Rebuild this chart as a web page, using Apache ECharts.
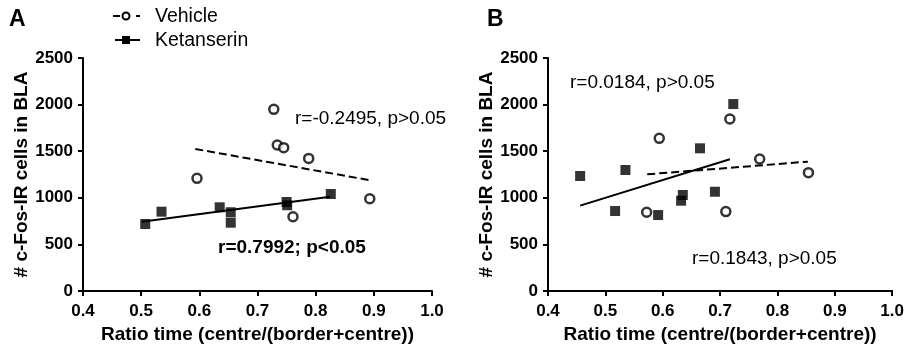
<!DOCTYPE html>
<html>
<head>
<meta charset="utf-8">
<script src="https://cdn.jsdelivr.net/npm/echarts@6/dist/echarts.min.js"></script>
<style>
  html, body { margin: 0; padding: 0; background: #fff; }
  #chart { width: 907px; height: 350px; }
</style>
</head>
<body>
<div id="chart"></div>
<script>
// panel A
const vehicleAx = [0.596, 0.728, 0.734, 0.745, 0.788, 0.761, 0.893]
const vehicleAy = [1209, 1949, 1566, 1538, 1423, 797, 990]
const ketanAx = [0.507, 0.535, 0.635, 0.654, 0.654, 0.750, 0.751, 0.826]
const ketanAy = [719, 851, 898, 845, 733, 955, 920, 1041]
const fitVehicleA = [[0.593, 1524], [0.891, 1191]]
const fitKetanA = [[0.501, 744], [0.825, 1012]]

// panel B
const vehicleBx = [0.572, 0.594, 0.717, 0.769, 0.710, 0.854]
const vehicleBy = [845, 1638, 1845, 1416, 852, 1270]
const ketanBx = [0.456, 0.517, 0.535, 0.592, 0.632, 0.635, 0.665, 0.691, 0.723]
const ketanBy = [1234, 858, 1298, 815, 969, 1030, 1531, 1065, 2006]
const fitKetanB = [[0.456, 916], [0.717, 1413]]
const fitVehicleB = [[0.573, 1252], [0.853, 1388]]

const xTicks = [0.4, 0.5, 0.6, 0.7, 0.8, 0.9, 1.0]
const yTicks = [0, 500, 1000, 1500, 2000, 2500]

const font = 'Liberation Sans, Arial, sans-serif'
const pairs = (xs, ys) => xs.map((x, i) => [x, ys[i]])

const chart = echarts.init(document.getElementById('chart'))

const xAxisCfg = (gridIndex) => ({
  type: 'value',
  gridIndex,
  min: xTicks[0],
  max: xTicks[xTicks.length - 1],
  interval: 0.1,
  name: 'Ratio time (centre/(border+centre))',
  nameLocation: 'middle',
  nameGap: 32,
  nameTextStyle: { fontFamily: font, fontWeight: 'bold', fontSize: 19, color: '#000' },
  splitLine: { show: false },
  axisLine: { onZero: false, lineStyle: { color: '#000', width: 2 } },
  axisTick: { show: true, length: 5, lineStyle: { color: '#000', width: 2 } },
  axisLabel: {
    margin: 12,
    fontFamily: font,
    fontWeight: 'bold',
    fontSize: 17,
    color: '#000',
    formatter: (v) => v.toFixed(1),
  },
})

const yAxisCfg = (gridIndex) => ({
  type: 'value',
  gridIndex,
  min: yTicks[0],
  max: yTicks[yTicks.length - 1],
  interval: 500,
  name: '# c-Fos-IR cells in BLA',
  nameLocation: 'middle',
  nameGap: 52,
  nameTextStyle: { fontFamily: font, fontWeight: 'bold', fontSize: 19, color: '#000' },
  splitLine: { show: false },
  axisLine: { show: true, lineStyle: { color: '#000', width: 2 } },
  axisTick: { show: true, length: 5, lineStyle: { color: '#000', width: 2 } },
  axisLabel: {
    margin: 10,
    fontFamily: font,
    fontWeight: 'bold',
    fontSize: 17,
    color: '#000',
    formatter: (v) => String(v),
  },
})

const circleSeries = (name, data, idx) => ({
  name,
  type: 'scatter',
  xAxisIndex: idx,
  yAxisIndex: idx,
  symbol: 'circle',
  symbolSize: 9,
  itemStyle: { color: '#fff', borderColor: '#000', borderWidth: 2.5 },
  data,
  z: 4,
})

const squareSeries = (name, data, idx) => ({
  name,
  type: 'scatter',
  xAxisIndex: idx,
  yAxisIndex: idx,
  symbol: 'rect',
  symbolSize: 10,
  itemStyle: { color: '#000' },
  data,
  z: 4,
})

const fitSeries = (data, idx, dashed) => ({
  type: 'line',
  xAxisIndex: idx,
  yAxisIndex: idx,
  showSymbol: false,
  silent: true,
  lineStyle: { color: '#000', width: 2, type: dashed ? [8, 4] : 'solid' },
  data,
  z: 3,
})

const txt = (x, y, text, size, weight, align) => ({
  type: 'text',
  x,
  y,
  style: {
    text,
    fill: '#000',
    font: `${weight} ${size}px ${font}`,
    textAlign: align || 'left',
    textVerticalAlign: 'middle',
  },
})

const option = {
  animation: false,
  backgroundColor: '#fff',
  grid: [
    { left: 83, right: 475, top: 58, bottom: 59 },
    { left: 548, right: 10, top: 58, bottom: 59 },
  ],
  xAxis: [xAxisCfg(0), xAxisCfg(1)],
  yAxis: [yAxisCfg(0), yAxisCfg(1)],
  series: [
    fitSeries(fitVehicleA, 0, true),
    fitSeries(fitKetanA, 0, false),
    circleSeries('Vehicle', pairs(vehicleAx, vehicleAy), 0),
    squareSeries('Ketanserin', pairs(ketanAx, ketanAy), 0),
    fitSeries(fitKetanB, 1, false),
    fitSeries(fitVehicleB, 1, true),
    circleSeries('Vehicle', pairs(vehicleBx, vehicleBy), 1),
    squareSeries('Ketanserin', pairs(ketanBx, ketanBy), 1),
  ],
  graphic: [
    // panel letters
    txt(9, 20, 'A', 23, 'bold'),
    txt(487, 20, 'B', 23, 'bold'),
    // legend
    { type: 'line', shape: { x1: 113, y1: 16, x2: 120, y2: 16 }, style: { stroke: '#000', lineWidth: 2 } },
    { type: 'circle', shape: { cx: 126, cy: 16, r: 3.5 }, style: { fill: '#fff', stroke: '#000', lineWidth: 2 } },
    { type: 'line', shape: { x1: 136, y1: 16, x2: 140, y2: 16 }, style: { stroke: '#000', lineWidth: 2 } },
    txt(155, 17, 'Vehicle', 19.5, 'normal'),
    { type: 'line', shape: { x1: 115, y1: 40, x2: 140, y2: 40 }, style: { stroke: '#000', lineWidth: 2 } },
    { type: 'rect', shape: { x: 122, y: 36, width: 8, height: 8 }, style: { fill: '#000' } },
    txt(155, 41, 'Ketanserin', 19.5, 'normal'),
    // correlation notes
    txt(295, 119, 'r=-0.2495, p>0.05', 19, 'normal'),
    txt(218, 248, 'r=0.7992; p<0.05', 19, 'bold'),
    txt(570, 83, 'r=0.0184, p>0.05', 19, 'normal'),
    txt(692, 259, 'r=0.1843, p>0.05', 19, 'normal'),
  ],
}

chart.setOption(option)
</script>
</body>
</html>
